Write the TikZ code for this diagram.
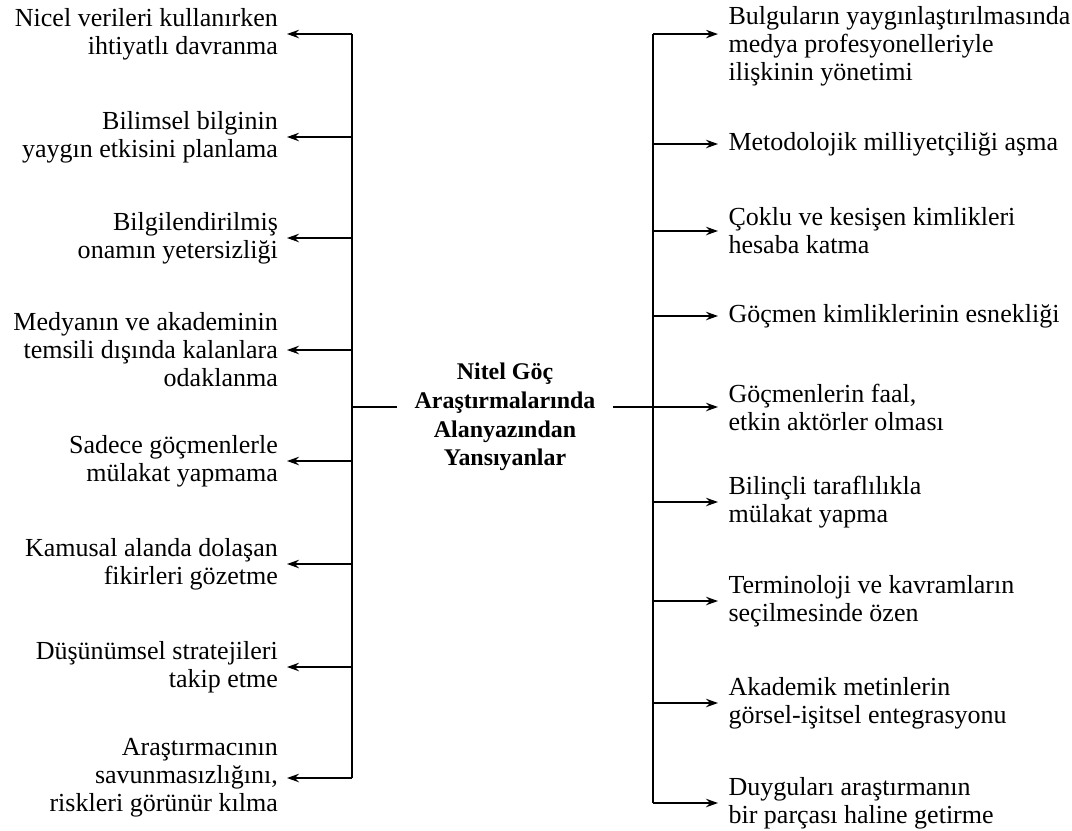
\documentclass[tikz,border=0pt]{standalone}
\usepackage{fontspec}
\setmainfont{Liberation Serif}
\usetikzlibrary{arrows.meta,positioning}
\tikzstyle{sol} = [anchor=east, align=right, inner xsep=6pt, inner ysep=0pt, font=\fontsize{18.5}{19.9}\selectfont]
\tikzstyle{sag} = [anchor=west, align=left, inner xsep=7pt, inner ysep=0pt, font=\fontsize{18.5}{19.9}\selectfont]
\tikzstyle{merkez} = [align=center, inner xsep=12pt, font=\fontsize{17}{20.5}\selectfont\bfseries]
\tikzstyle{arrow} = [->,>={Stealth[length=8.5pt,width=6pt]}]

\begin{document}
\begin{tikzpicture}[x=0.025cm,y=-0.025cm,line width=1pt]
\useasboundingbox (0,0) rectangle (1072,830);
\node (c) [merkez] at (505,417) {Nitel Göç\\Araştırmalarında\\Alanyazından\\Yansıyanlar};
\coordinate (lv) at (352,407);
\coordinate (rv) at (653,407);
% sol taraf
\node (l1) [sol] at (287,34) {Nicel verileri kullanırken\\ihtiyatlı davranma};
\node (l2) [sol] at (287,137) {Bilimsel bilginin\\yaygın etkisini planlama};
\node (l3) [sol] at (287,238) {Bilgilendirilmiş\\onamın yetersizliği};
\node (l4) [sol] at (287,350) {Medyanın ve akademinin\\temsili dışında kalanlara\\odaklanma};
\node (l5) [sol] at (287,461) {Sadece göçmenlerle\\mülakat yapmama};
\node (l6) [sol] at (287,564) {Kamusal alanda dolaşan\\fikirleri gözetme};
\node (l7) [sol] at (287,667) {Düşünümsel stratejileri\\takip etme};
\node (l8) [sol] at (287,778) {Araştırmacının\\savunmasızlığını,\\riskleri görünür kılma};
% sag taraf
\node (r1) [sag] at (718,46) {Bulguların yaygınlaştırılmasında\\medya profesyonelleriyle\\ilişkinin yönetimi};
\node (r2) [sag] at (718,144) {Metodolojik milliyetçiliği aşma};
\node (r3) [sag] at (718,231) {Çoklu ve kesişen kimlikleri\\hesaba katma};
\node (r4) [sag] at (718,316) {Göçmen kimliklerinin esnekliği};
\node (r5) [sag] at (718,407) {Göçmenlerin faal,\\etkin aktörler olması};
\node (r6) [sag] at (718,502) {Bilinçli taraflılıkla\\mülakat yapma};
\node (r7) [sag] at (718,601) {Terminoloji ve kavramların\\seçilmesinde özen};
\node (r8) [sag] at (718,703) {Akademik metinlerin\\görsel-işitsel entegrasyonu};
\node (r9) [sag] at (718,803) {Duyguları araştırmanın\\bir parçası haline getirme};
\coordinate (r1a) at ([yshift=8.5pt]r1.west);
% baglantilar
\draw (c.west |- lv) -- (lv);
\draw (c.east |- rv) -- (rv);
\draw (lv |- l1.east) -- (lv |- l8.east);
\draw (rv |- r1a) -- (rv |- r9.west);
\foreach \i in {1,...,8}
  \draw [arrow] (lv |- l\i.east) -- (l\i.east);
\draw [arrow] (rv |- r1a) -- (r1a);
\foreach \i in {2,...,9}
  \draw [arrow] (rv |- r\i.west) -- (r\i.west);
\end{tikzpicture}
\end{document}
